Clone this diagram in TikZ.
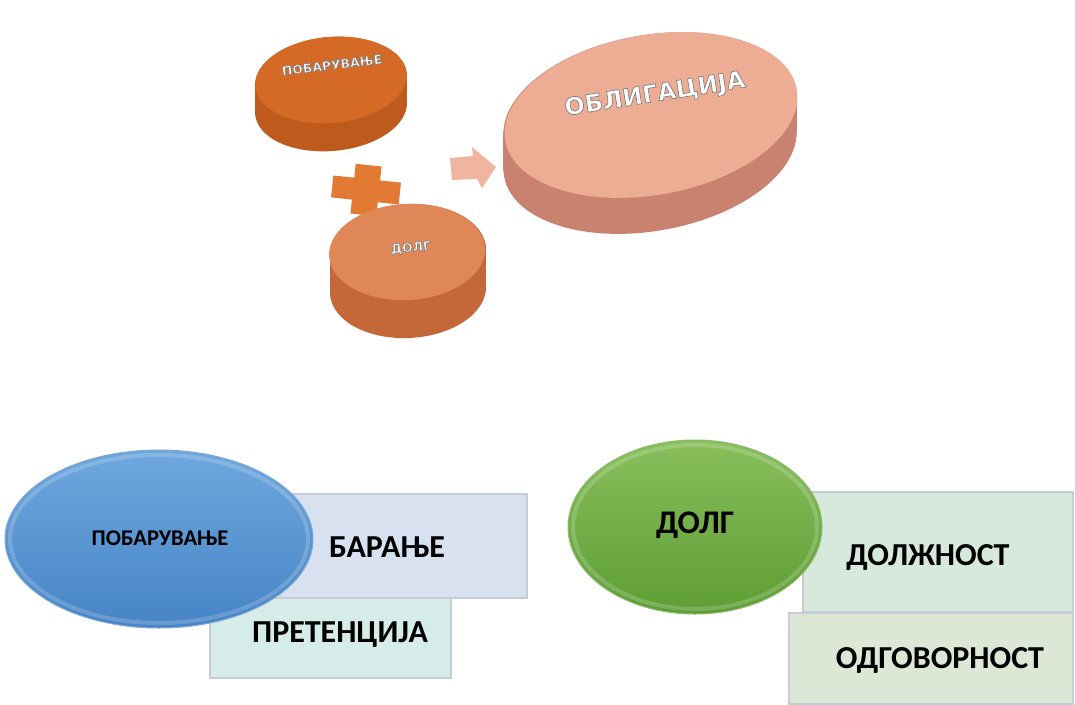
\documentclass[tikz,border=0pt]{standalone}
\usepackage{fontspec}
\setmainfont{Carlito}
\newfontfamily\discfont{DejaVu Sans}
\usetikzlibrary{shapes.geometric}
\definecolor{orA}{HTML}{D46A26}
\definecolor{orAside}{HTML}{BD5A1C}
\definecolor{orB}{HTML}{E08757}
\definecolor{orBside}{HTML}{C4683A}
\definecolor{peach}{HTML}{EDAC94}
\definecolor{peachside}{HTML}{C8826F}
\definecolor{plusc}{HTML}{E37A34}
\definecolor{arrowc}{HTML}{EFB5A0}
\definecolor{blueA}{HTML}{6EA8DE}
\definecolor{blueB}{HTML}{4784C6}
\definecolor{greenA}{HTML}{88BF5C}
\definecolor{greenB}{HTML}{5E9D34}
\definecolor{boxblue}{HTML}{D7E1F0}
\definecolor{boxteal}{HTML}{D6ECE8}
\definecolor{boxgreen}{HTML}{D7E9DD}
\definecolor{boxolive}{HTML}{DCE7D6}
\definecolor{boxline}{HTML}{C5CCD4}
\newcommand{\embossed}[1]{{\color{white}\special{pdf:literal direct 2 Tr 0.7 w 0.5 0.5 0.5 RG}#1\special{pdf:literal direct 0 Tr}}}
\tikzset{
  disctext/.style={inner sep=0pt},
  boxtext/.style={font=\bfseries\fontsize{32}{34}\selectfont, text=black, inner sep=0pt},
  infobox/.style={draw=boxline, line width=1.2pt},
}
\begin{document}
\begin{tikzpicture}[x=1pt,y=1pt]
\useasboundingbox (0,0) rectangle (1075,-704);
% ---- disc ПОБАРУВАЊЕ
\foreach \d in {28,27,...,0}{
  \fill[orAside] (331,{-80-\d}) ellipse [x radius=76, y radius=43, rotate=5];
}
\fill[orA] (331,-80) ellipse [x radius=76, y radius=43, rotate=5];
\node[disctext, font=\discfont\bfseries\fontsize{12.5}{14}\selectfont, rotate=7] (pob1) at (332,-65) {\embossed{ПОБАРУВАЊЕ}};
% ---- plus
\begin{scope}[shift={(366,-190)}, rotate=-6]
\fill[plusc] (-13,-25) rectangle (13,25);
\fill[plusc] (-34,-11) rectangle (34,11);
\end{scope}
% ---- disc ДОЛГ
\foreach \d in {38,37,...,0}{
  \fill[orBside] (408,{-252-\d}) ellipse [x radius=78, y radius=48, rotate=3];
}
\fill[orB] (407,-252) ellipse [x radius=78, y radius=48, rotate=3];
\node[disctext, font=\discfont\bfseries\fontsize{12.5}{14}\selectfont, rotate=5] (dolg1) at (411,-248) {\embossed{ДОЛГ}};
% ---- arrow
\fill[arrowc] (450,-158) -- (473,-156) -- (472,-147) -- (496,-167) -- (482,-188) -- (477,-179) -- (452,-180) -- cycle;
% ---- disc ОБЛИГАЦИЈА
\foreach \d in {36,35,...,0}{
  \fill[peachside] (650,{-115-\d}) ellipse [x radius=148, y radius=80, rotate=10];
}
\fill[peach] (651,-115) ellipse [x radius=148, y radius=80, rotate=10];
\node[disctext, font=\discfont\bfseries\fontsize{24}{26}\selectfont, rotate=9] (obl) at (655,-95) {\embossed{ОБЛИГАЦИЈА}};

% ---- bottom left group
\draw[infobox, fill=boxblue] (280,-494) rectangle (527,-598) ;
\node[boxtext] (bar) at (387,-547) {БАРАЊЕ};
\draw[infobox, fill=boxteal] (210,-598) rectangle (451,-678);
\node[boxtext] (pret) at (340,-635) {ПРЕТЕНЦИЈА};
\shade[top color=blueA, bottom color=blueB, draw=blueB!70!white, line width=1pt] (159,-539) ellipse [x radius=154, y radius=89];
\draw[white, opacity=0.18, line width=4pt] (159,-539) ellipse [x radius=149, y radius=84];
\node[boxtext, font=\bfseries\fontsize{22.5}{24}\selectfont] (pob2) at (160,-538) {ПОБАРУВАЊЕ};

% ---- bottom right group
\draw[infobox, fill=boxgreen] (803,-492) rectangle (1073,-612);
\node[boxtext] (dolzn) at (928,-557) {ДОЛЖНОСТ};
\draw[infobox, fill=boxolive] (789,-613) rectangle (1073,-704);
\node[boxtext] (odg) at (940,-660) {ОДГОВОРНОСТ};
\shade[top color=greenA, bottom color=greenB, draw=greenB!70!white, line width=1pt] (695,-527) ellipse [x radius=127, y radius=87];
\draw[white, opacity=0.18, line width=4pt] (695,-527) ellipse [x radius=122, y radius=82];
\node[boxtext, font=\bfseries\fontsize{33}{35}\selectfont] (dolg2) at (695,-525) {ДОЛГ};
\end{tikzpicture}
\end{document}
